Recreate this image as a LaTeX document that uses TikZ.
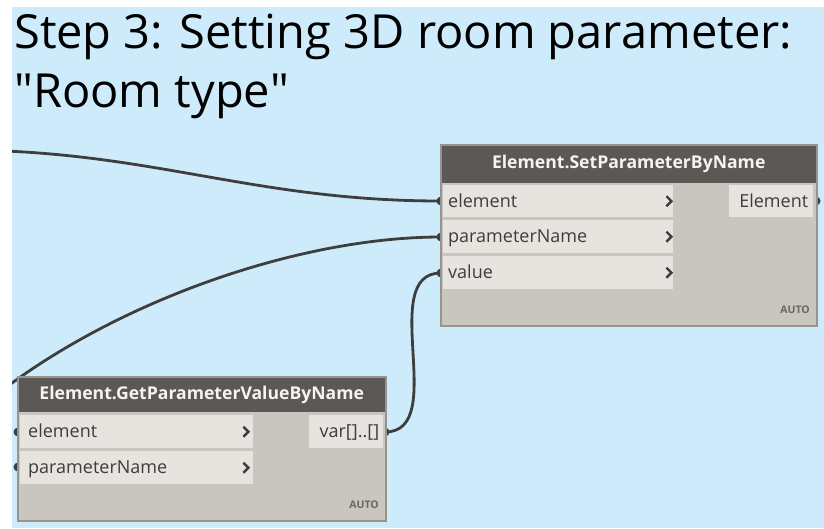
\documentclass[tikz,border=0pt]{standalone}
\usepackage{fontspec}
\setmainfont{Open Sans}
\definecolor{bgblue}{HTML}{CDEBFB}
\definecolor{hdrc}{HTML}{5C5855}
\definecolor{bodyc}{HTML}{C9C6C0}
\definecolor{rowc}{HTML}{E7E4DF}
\definecolor{edgec}{HTML}{97938E}
\definecolor{wirec}{HTML}{3E3E3E}
\definecolor{txtc}{HTML}{3F3D3B}
\definecolor{hdrtxt}{HTML}{F4F4F4}
\definecolor{autoc}{HTML}{6A6663}
% straight double quote, set as a glyph so it is not turned into a curly one
\newcommand\sq{\XeTeXglyph\XeTeXcharglyph"22\relax}
\tikzset{
  wire/.style={draw=wirec, line width=2.8pt},
  portdot/.style={fill=wirec, circle, inner sep=0pt, minimum size=9pt},
  frame/.style={fill=bodyc, draw=edgec, line width=1.2pt, inner sep=0pt, anchor=north west},
  header/.style={fill=hdrc, inner sep=0pt, anchor=north west},
  row/.style={fill=rowc, inner sep=0pt, anchor=north west},
  lbl/.style={text=txtc, font=\fontsize{18}{18}\selectfont, inner sep=0pt},
  titletext/.style={font=\fontsize{47}{47}\selectfont, inner sep=0pt, anchor=base west, text=black},
  htext/.style={text=hdrtxt, font=\bfseries\fontsize{17.6}{17.6}\selectfont, inner sep=0pt},
  autotext/.style={text=autoc, font=\bfseries\fontsize{10.5}{10.5}\selectfont, inner sep=0pt, anchor=east},
  chevron/.style={draw=txtc, line width=2.4pt}
}
% chevron drawn at the right end of an input row
\newcommand\rowchev[2]{\draw[chevron] ([xshift=#2]#1.east) ++(-5,-5) -- ++(5,5) -- ++(-5,5);}
\begin{document}
\begin{tikzpicture}[x=1pt,y=-1pt]
\useasboundingbox (0,0) rectangle (824,528);
\fill[white] (0,0) rectangle (824,528);
\fill[bgblue] (12,7) rectangle (824,528);

% title
\node[titletext] (title1) at (14,48) {Step 3: Setting 3D room parameter:};
\node[titletext] (title2) at (14,107) {\sq Room type\sq};

% port positions
\coordinate (setEl) at (441,201);
\coordinate (setPN) at (441,237);
\coordinate (setVal) at (441,273);
\coordinate (setOut) at (816,201);
\coordinate (getEl) at (18,432);
\coordinate (getPN) at (18,467);
\coordinate (getOut) at (385,432);
% wires coming in from outside the canvas
\coordinate (srcA) at (-40,150);
\coordinate (srcB) at (0,392);

% wires
\begin{scope}
\clip (12,7) rectangle (824,528);
\draw[wire] (srcA) .. controls +(190,0) and +(-190,0) .. (setEl);
\draw[wire] (srcB) .. controls +(120,-92) and +(-141,0) .. (setPN);
\draw[wire] (getOut) .. controls +(65,0) and +(-65,0) .. (setVal);
\foreach \p in {setEl,setPN,setVal,setOut,getEl,getPN,getOut}
  \node[portdot] at (\p) {};
\end{scope}

% Element.SetParameterByName
\node[frame, minimum width=375pt, minimum height=180pt] (setNode) at (441,145) {};
\node[header, minimum width=375pt, minimum height=38pt] (setHead) at (441,145) {};
\node[htext] (setTitle) at (setHead.center) {Element.SetParameterByName};
\node[row, minimum width=230pt, minimum height=32pt] (setRow1) at (443,185) {};
\node[row, minimum width=230pt, minimum height=33pt] (setRow2) at (443,220) {};
\node[row, minimum width=230pt, minimum height=33pt] (setRow3) at (443,256) {};
\node[row, minimum width=84pt, minimum height=32pt] (setRowOut) at (729,185) {};
\node[lbl, anchor=base west] (setL1) at ([xshift=5pt,yshift=-6pt]setRow1.west) {element};
\node[lbl, anchor=base west] (setL2) at ([xshift=5pt,yshift=-6pt]setRow2.west) {parameterName};
\node[lbl, anchor=base west] (setL3) at ([xshift=5pt,yshift=-6pt]setRow3.west) {value};
\node[lbl, anchor=base east] (setLO) at ([xshift=-5pt,yshift=-6pt]setRowOut.east) {Element};
\rowchev{setRow1}{-2pt}
\rowchev{setRow2}{-2pt}
\rowchev{setRow3}{-2pt}
\node[autotext] (setAuto) at (810,310) {AUTO};
\draw[edgec, line width=1.2pt] (setNode.north west) rectangle (setNode.south east);

% Element.GetParameterValueByName
\node[frame, minimum width=367pt, minimum height=143pt] (getNode) at (18,377) {};
\node[header, minimum width=367pt, minimum height=35pt] (getHead) at (18,377) {};
\node[htext] (getTitle) at (getHead.center) {Element.GetParameterValueByName};
\node[row, minimum width=233pt, minimum height=33pt] (getRow1) at (20,415) {};
\node[row, minimum width=233pt, minimum height=33pt] (getRow2) at (20,451) {};
\node[row, minimum width=74pt, minimum height=33pt] (getRowOut) at (309,415) {};
\node[lbl, anchor=base west] (getL1) at ([xshift=8pt,yshift=-6pt]getRow1.west) {element};
\node[lbl, anchor=base west] (getL2) at ([xshift=8pt,yshift=-6pt]getRow2.west) {parameterName};
\node[lbl, anchor=base east] (getLO) at ([xshift=-4pt,yshift=-6pt]getRowOut.east) {var[]..[]};
\rowchev{getRow1}{-5pt}
\rowchev{getRow2}{-5pt}
\node[autotext] (getAuto) at (379,505) {AUTO};
\draw[edgec, line width=1.2pt] (getNode.north west) rectangle (getNode.south east);
\end{tikzpicture}
\end{document}
